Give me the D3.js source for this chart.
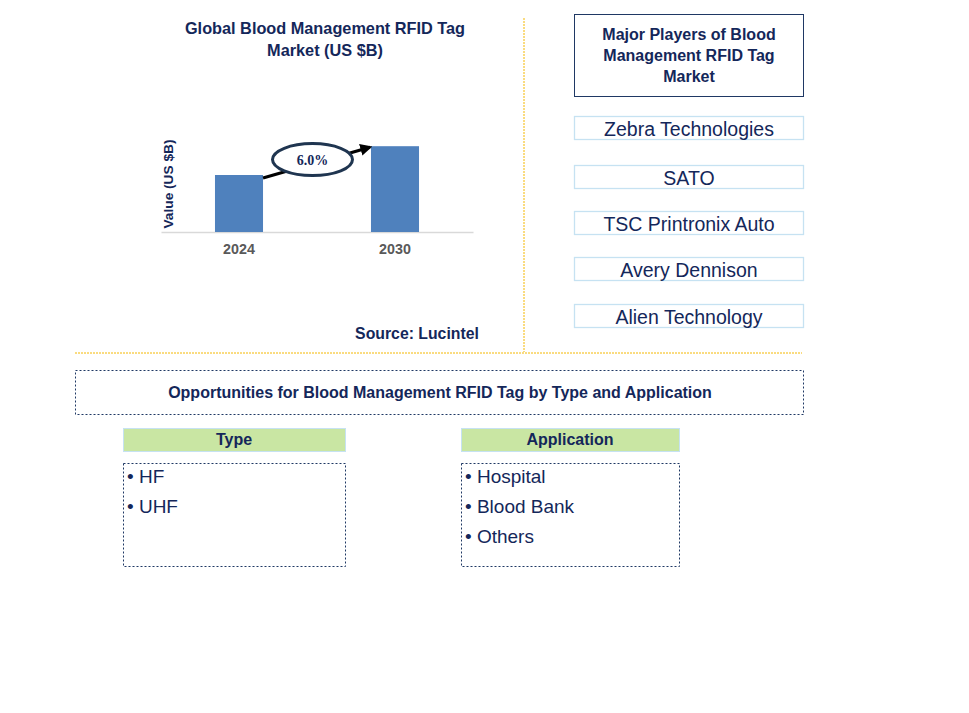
<!DOCTYPE html>
<html><head><meta charset="utf-8">
<script src="https://cdn.jsdelivr.net/npm/d3@7"></script>
<style>body{margin:0;background:#fff}svg{display:block;font-family:"Liberation Sans",Arial,sans-serif}</style>
</head><body>
<script>
const years = ["2024", "2030"];
const values = [1.9, 2.86];
const cagrLabel = "6.0%";
const titleLines = ["Global Blood Management RFID Tag", "Market (US $B)"];
const playersTitle = ["Major Players of Blood", "Management RFID Tag", "Market"];
const players = ["Zebra Technologies", "SATO", "TSC Printronix Auto", "Avery Dennison", "Alien Technology"];
const typeItems = ["HF", "UHF"];
const appItems = ["Hospital", "Blood Bank", "Others"];

const navy = "#14275a";
const W = 969, H = 713;
const svg = d3.select("body").append("svg").attr("width", W).attr("height", H);

// Title
svg.append("g").selectAll("text").data(titleLines).join("text")
  .attr("x", 325).attr("y", (d, i) => 34 + i * 21.5)
  .attr("text-anchor", "middle").attr("font-size", 16.3).attr("font-weight", "bold")
  .attr("fill", navy).text(d => d);

// Bar chart
const x = d3.scaleBand().domain(years).range([161, 473]).paddingInner(0.692).paddingOuter(0.346);
const y = d3.scaleLinear().domain([0, 3.3]).range([232, 133]);
const gx = svg.append("g").attr("transform", "translate(0,232)")
  .call(d3.axisBottom(x).tickSize(0).tickPadding(12));
gx.select(".domain").attr("stroke", "#d9d9d9").attr("stroke-width", 1.5);
gx.selectAll("text").attr("font-size", 14.3).attr("font-weight", "bold").attr("fill", "#595959")
  .attr("font-family", "Liberation Sans, Arial, sans-serif");

svg.append("g").selectAll("rect").data(values).join("rect")
  .attr("x", (d, i) => x(years[i])).attr("width", x.bandwidth())
  .attr("y", d => y(d)).attr("height", d => y(0) - y(d)).attr("fill", "#4f81bd");

svg.append("text").attr("transform", "translate(173,184) rotate(-90)")
  .attr("text-anchor", "middle").attr("font-size", 13.7).attr("font-weight", "bold")
  .attr("fill", navy).text("Value (US $B)");

// Arrow
const defs = svg.append("defs");
defs.append("marker").attr("id", "ah").attr("viewBox", "0 0 10 10").attr("refX", 8).attr("refY", 5)
  .attr("markerWidth", 4).attr("markerHeight", 4).attr("orient", "auto")
  .append("path").attr("d", "M0,0L10,5L0,10Z").attr("fill", "#000");
const x0 = x(years[0]) + x.bandwidth(), y0 = y(values[0]) + 3;
const x1 = x(years[1]) - 1, y1 = y(values[1]) + 1;
svg.append("line").attr("x1", x0).attr("y1", y0).attr("x2", x1).attr("y2", y1)
  .attr("stroke", "#000").attr("stroke-width", 3).attr("marker-end", "url(#ah)");
const ex = (x0 + x1) / 2 - 4, ey = (y0 + y1) / 2 - 3;
svg.append("ellipse").attr("cx", ex).attr("cy", ey).attr("rx", 40).attr("ry", 16)
  .attr("fill", "#fff").attr("stroke", "#1f3550").attr("stroke-width", 3);
svg.append("text").attr("x", ex).attr("y", ey + 5).attr("text-anchor", "middle")
  .attr("font-family", "Liberation Serif, Times New Roman, serif").attr("font-weight", "bold")
  .attr("font-size", 14).attr("fill", navy).text(cagrLabel);

svg.append("text").attr("x", 417).attr("y", 339).attr("text-anchor", "middle")
  .attr("font-size", 15.8).attr("font-weight", "bold").attr("fill", navy).text("Source: Lucintel");

// Divider lines
svg.append("line").attr("x1", 524).attr("x2", 524).attr("y1", 18).attr("y2", 352)
  .attr("stroke", "#f5b800").attr("stroke-width", 1).attr("stroke-dasharray", "2,1");
svg.append("line").attr("x1", 75).attr("x2", 802).attr("y1", 353).attr("y2", 353)
  .attr("stroke", "#f5b800").attr("stroke-width", 1).attr("stroke-dasharray", "2,1");

// Players
svg.append("rect").attr("x", 574.5).attr("y", 14.5).attr("width", 229).attr("height", 82)
  .attr("fill", "none").attr("stroke", "#1f3864").attr("stroke-width", 1);
svg.append("g").selectAll("text").data(playersTitle).join("text")
  .attr("x", 689).attr("y", (d, i) => 40 + i * 21).attr("text-anchor", "middle")
  .attr("font-size", 16).attr("font-weight", "bold").attr("fill", navy).text(d => d);

const py = [116, 165, 211, 257, 304];
const pg = svg.append("g").selectAll("g").data(players).join("g")
  .attr("transform", (d, i) => `translate(574.5,${py[i] + 0.5})`);
pg.append("rect").attr("width", 229).attr("height", 23).attr("fill", "#fff")
  .attr("stroke", "#c6e2f2").attr("stroke-width", 1.3);
pg.append("text").attr("x", 114.5).attr("y", 19).attr("text-anchor", "middle")
  .attr("font-size", 19.5).attr("fill", navy).text(d => d);

// Opportunities
svg.append("rect").attr("x", 75.5).attr("y", 370.5).attr("width", 728).attr("height", 44)
  .attr("fill", "none").attr("stroke", "#1f3864").attr("stroke-dasharray", "2,2");
svg.append("text").attr("x", 440).attr("y", 398).attr("text-anchor", "middle")
  .attr("font-size", 16).attr("font-weight", "bold").attr("fill", navy)
  .text("Opportunities for Blood Management RFID Tag by Type and Application");

function panel(x0, w, title, items) {
  svg.append("rect").attr("x", x0 + 0.5).attr("y", 428.5).attr("width", w).attr("height", 23)
    .attr("fill", "#c9e6a3").attr("stroke", "#c6e2f2");
  svg.append("text").attr("x", x0 + w / 2).attr("y", 445).attr("text-anchor", "middle")
    .attr("font-size", 16).attr("font-weight", "bold").attr("fill", navy).text(title);
  svg.append("rect").attr("x", x0 + 0.5).attr("y", 463.5).attr("width", w).attr("height", 103)
    .attr("fill", "none").attr("stroke", "#1f3864").attr("stroke-dasharray", "2,2");
  svg.append("g").selectAll("text").data(items).join("text")
    .attr("x", x0 + 4).attr("y", (d, i) => 483 + i * 30)
    .attr("font-size", 19).attr("fill", navy).text(d => "\u2022 " + d);
}
panel(123, 222, "Type", typeItems);
panel(461, 218, "Application", appItems);
</script>
</body></html>
